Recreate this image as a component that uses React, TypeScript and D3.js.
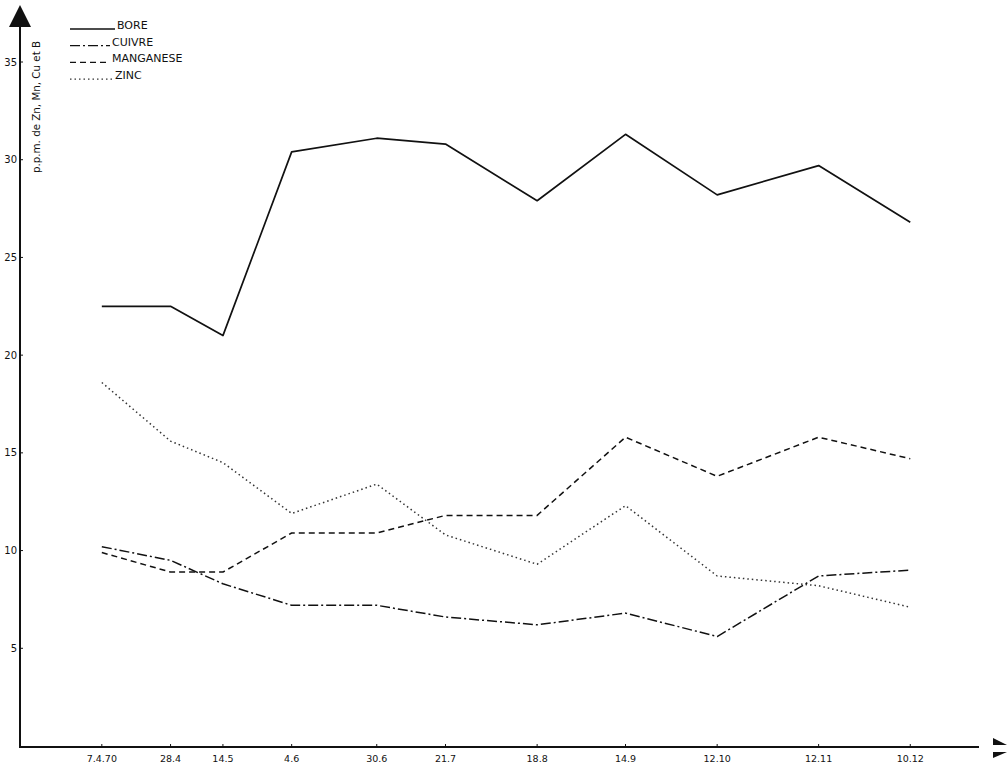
import React from 'react';
import * as d3 from 'd3';

// sampling dates (1970) and their axis labels
const dateLabels = ['7.4.70', '28.4', '14.5', '4.6', '30.6', '21.7', '18.8', '14.9', '12.10', '12.11', '10.12'];
const sampleDates = [
  new Date(1970, 3, 7), new Date(1970, 3, 28), new Date(1970, 4, 14), new Date(1970, 5, 4),
  new Date(1970, 5, 30), new Date(1970, 6, 21), new Date(1970, 7, 18), new Date(1970, 8, 14),
  new Date(1970, 9, 12), new Date(1970, 10, 12), new Date(1970, 11, 10),
];

const bore = [22.5, 22.5, 21.0, 30.4, 31.1, 30.8, 27.9, 31.3, 28.2, 29.7, 26.8];
const cuivre = [10.2, 9.5, 8.3, 7.2, 7.2, 6.6, 6.2, 6.8, 5.6, 8.7, 9.0];
const manganese = [9.9, 8.9, 8.9, 10.9, 10.9, 11.8, 11.8, 15.8, 13.8, 15.8, 14.7];
const zinc = [18.6, 15.6, 14.5, 11.9, 13.4, 10.8, 9.3, 12.3, 8.7, 8.2, 7.1];

const yTicks = [5, 10, 15, 20, 25, 30, 35];

const seriesList = [
  { name: 'BORE', values: bore, dash: null, width: 1.7, color: '#111', labelX: 117 },
  { name: 'CUIVRE', values: cuivre, dash: '10,3,2,3', width: 1.5, color: '#111', labelX: 112 },
  { name: 'MANGANESE', values: manganese, dash: '6,4', width: 1.5, color: '#111', labelX: 112 },
  { name: 'ZINC', values: zinc, dash: '1.5,3', width: 1.5, color: '#333', labelX: 115 },
];

const App = () => {
  const width = 1007;
  const height = 765;
  const x0 = 20;
  const y0 = 747;

  const x = d3.scaleTime()
    .domain([new Date(1970, 2, 13), new Date(1970, 11, 31)])
    .range([x0, 979]);
  const y = d3.scaleLinear().domain([0, 35]).range([746, 62]);

  const line = d3.line<number>()
    .x((d, i) => x(sampleDates[i]))
    .y(d => y(d));

  const font = '"DejaVu Sans", sans-serif';
  const ink = '#111';

  return (
    <div style={{ position: 'absolute', left: 0, top: 0 }}>
      <svg width={width} height={height} style={{ display: 'block', background: '#fff' }}>
        {/* y axis with arrow */}
        <line x1={x0} x2={x0} y1={y0} y2={20} stroke={ink} strokeWidth={2} />
        <path d={`M${x0},5 L${x0 + 11},27 L${x0 - 11},27 Z`} fill={ink} />
        {yTicks.map(t => (
          <g key={t}>
            <line x1={x0} x2={x0 + 3} y1={y(t)} y2={y(t)} stroke={ink} strokeWidth={1} />
            <text x={x0 - 3} y={y(t) + 3.5} textAnchor="end" fontFamily={font}
                  fontSize={10} fill={ink}>{t}</text>
          </g>
        ))}
        <text transform={`translate(40,107) rotate(-90)`} textAnchor="middle" fontFamily={font}
              fontSize={10.3} fill={ink}>p.p.m. de Zn, Mn, Cu et B</text>

        {/* x axis with split arrow head */}
        <line x1={x0 - 1} x2={979} y1={y0} y2={y0} stroke={ink} strokeWidth={2} />
        <path d="M993,738 L1007,745 L993,745 Z" fill={ink} />
        <path d="M993,758 L1007,752 L993,752 Z" fill={ink} />
        {sampleDates.map((d, i) => (
          <g key={dateLabels[i]}>
            <line x1={x(d)} x2={x(d)} y1={y0} y2={y0 - 3} stroke={ink} strokeWidth={1} />
            <text x={x(d)} y={762} textAnchor="middle" fontFamily={font}
                  fontSize={9.5} fill={ink}>{dateLabels[i]}</text>
          </g>
        ))}

        {/* series */}
        {seriesList.map(s => (
          <path key={s.name} d={line(s.values) || ''} fill="none" stroke={s.color}
                strokeWidth={s.width} strokeDasharray={s.dash || undefined}
                strokeLinejoin="round" />
        ))}

        {/* legend */}
        {seriesList.map((s, i) => {
          const ly = 29 + i * 16.7;
          return (
            <g key={'lg' + s.name}>
              <line x1={70} x2={s.labelX - 2} y1={ly} y2={ly} stroke={s.color}
                    strokeWidth={s.width - 0.3} strokeDasharray={s.dash || undefined} />
              <text x={s.labelX} y={ly} fontFamily={font} fontSize={11} fill={ink}>{s.name}</text>
            </g>
          );
        })}
      </svg>
    </div>
  );
};

export default App;
